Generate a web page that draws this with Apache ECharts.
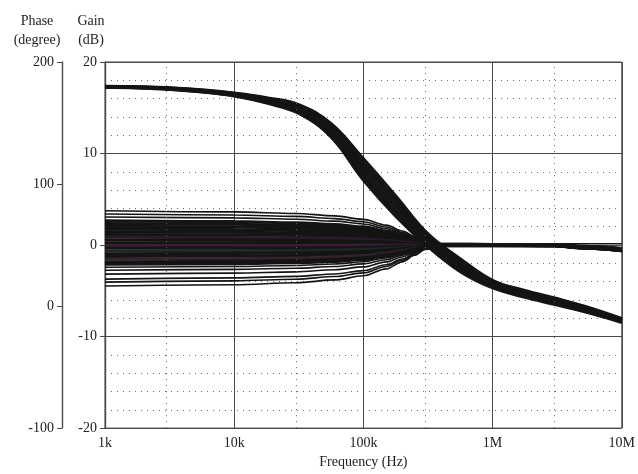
<!DOCTYPE html>
<html>
<head>
<meta charset="utf-8">
<script src="https://cdn.jsdelivr.net/npm/echarts@6/dist/echarts.min.js"></script>
<style>
  html, body { margin: 0; padding: 0; background: #fff; }
  #chart { width: 638px; height: 474px; }
</style>
</head>
<body>
<div id="chart"></div>
<script>
// Frequency points (Hz) for the gain and phase traces
const freqGain = [1e3, 1e4, 3e4, 6e4, 1e5, 1.5e5, 2e5, 2.5e5, 3e5, 4e5, 1e6, 3e6, 5e6, 1e7];
const freqPhase = [1e3, 1.78e3, 3.16e3, 5.62e3, 1e4, 1.78e4, 3.16e4, 5.62e4, 1e5,
                   1.78e5, 3.16e5, 5.62e5, 1e6, 1.78e6, 3.16e6, 5.62e6, 1e7];

// Gain traces (dB), one row per Monte Carlo run
const gainCurves = [
  [3.75, 3.62, 3.45, 3.19, 2.81, 2.18, 1.54, 0.94, 0.41, 0.11, 0.15, 0.15, 0.15, 0.14],
  [3.4, 3.28, 3.13, 2.89, 2.55, 1.97, 1.39, 0.85, 0.37, 0.10, 0.08, 0.05, -0.1, -0.35],
  [3.07, 2.97, 2.82, 2.61, 2.30, 1.78, 1.26, 0.77, 0.34, 0.09, 0.08, 0.05, -0.1, -0.35],
  [2.64, 2.55, 2.43, 2.24, 1.98, 1.53, 1.08, 0.66, 0.29, 0.08, 0.06, 0.03, -0.15, -0.4],
  [2.35, 2.27, 2.16, 2.0, 1.76, 1.36, 0.96, 0.59, 0.26, 0.07, 0.06, 0.03, -0.15, -0.4],
  [2.05, 1.98, 1.89, 1.74, 1.54, 1.19, 0.84, 0.51, 0.23, 0.06, 0.05, 0.02, -0.2, -0.45],
  [1.75, 1.69, 1.61, 1.49, 1.31, 1.02, 0.72, 0.44, 0.19, 0.05, 0.05, 0.02, -0.2, -0.45],
  [1.45, 1.40, 1.33, 1.23, 1.09, 0.84, 0.59, 0.36, 0.16, 0.04, 0.04, 0.0, -0.2, -0.45],
  [1.15, 1.11, 1.06, 0.98, 0.86, 0.67, 0.47, 0.29, 0.13, 0.03, 0.03, 0.0, -0.2, -0.5],
  [0.85, 0.82, 0.78, 0.72, 0.64, 0.49, 0.35, 0.21, 0.09, 0.03, 0.02, 0.0, -0.25, -0.5],
  [0.55, 0.53, 0.51, 0.47, 0.41, 0.32, 0.23, 0.14, 0.06, 0.02, 0.02, -0.02, -0.25, -0.5],
  [0.25, 0.24, 0.23, 0.21, 0.19, 0.15, 0.10, 0.06, 0.03, 0.01, 0.0, -0.02, -0.25, -0.5],
  [-0.05, -0.05, -0.05, -0.04, -0.04, -0.03, -0.02, -0.01, -0.01, 0.0, 0.0, -0.03, -0.25, -0.55],
  [-0.35, -0.34, -0.32, -0.30, -0.26, -0.20, -0.14, -0.09, -0.04, -0.01, -0.01, -0.04, -0.25, -0.55],
  [-0.65, -0.63, -0.60, -0.55, -0.49, -0.38, -0.27, -0.16, -0.07, -0.02, -0.02, -0.05, -0.3, -0.55],
  [-0.95, -0.92, -0.87, -0.81, -0.71, -0.55, -0.39, -0.24, -0.10, -0.03, -0.03, -0.05, -0.3, -0.55],
  [-1.25, -1.21, -1.15, -1.06, -0.94, -0.73, -0.51, -0.31, -0.14, -0.04, -0.04, -0.06, -0.3, -0.6],
  [-1.55, -1.50, -1.43, -1.32, -1.16, -0.90, -0.64, -0.39, -0.17, -0.05, -0.05, -0.07, -0.3, -0.6],
  [-1.85, -1.79, -1.70, -1.57, -1.39, -1.07, -0.76, -0.46, -0.20, -0.06, -0.06, -0.08, -0.3, -0.6],
  [-2.1, -2.03, -1.93, -1.79, -1.58, -1.22, -0.86, -0.53, -0.23, -0.06, -0.06, -0.08, -0.3, -0.6],
  [-2.43, -2.35, -2.24, -2.07, -1.82, -1.41, -1.0, -0.61, -0.27, -0.07, -0.07, -0.1, -0.3, -0.6],
  [-2.75, -2.66, -2.53, -2.34, -2.06, -1.60, -1.13, -0.69, -0.30, -0.08, -0.08, -0.1, -0.3, -0.6],
  [-3.18, -3.07, -2.93, -2.70, -2.39, -1.84, -1.30, -0.80, -0.35, -0.10, -0.08, -0.1, -0.3, -0.6],
  [-3.72, -3.59, -3.42, -3.16, -2.79, -2.16, -1.53, -0.93, -0.41, -0.11, -0.1, -0.12, -0.35, -0.6],
  [-4.05, -3.91, -3.73, -3.44, -3.04, -2.35, -1.66, -1.01, -0.45, -0.12, -0.1, -0.12, -0.35, -0.6],
  [-4.48, -4.33, -4.12, -3.81, -3.36, -2.60, -1.84, -1.12, -0.49, -0.13, -0.1, -0.12, -0.35, -0.6]
];

// Phase traces (degree), one row per run
const phaseCurves = [
  [180.3, 179.9, 179.1, 177.4, 174.7, 170.9, 165.3, 149.8, 121, 90.6, 59.5, 39, 21.3, 13, 6.3, -1.1, -10],
  [180.1, 179.7, 178.8, 177.1, 174.3, 170.2, 164.2, 148.1, 118.4, 88.1, 57.9, 37.4, 20.4, 12.1, 5.5, -1.8, -10.5],
  [180, 179.5, 178.6, 176.8, 173.9, 169.5, 163.1, 146.5, 115.9, 85.7, 56.4, 35.9, 19.4, 11.3, 4.7, -2.5, -11],
  [179.8, 179.3, 178.3, 176.5, 173.5, 168.8, 162, 144.8, 113.3, 83.2, 54.8, 34.3, 18.5, 10.4, 3.9, -3.2, -11.5],
  [179.6, 179.1, 178.1, 176.1, 173.1, 168.2, 161, 143.2, 110.7, 80.8, 53.2, 32.7, 17.5, 9.6, 3.1, -3.8, -12.1],
  [179.4, 178.9, 177.8, 175.8, 172.7, 167.5, 159.9, 141.5, 108.1, 78.3, 51.6, 31.1, 16.6, 8.7, 2.3, -4.5, -12.6],
  [179.3, 178.7, 177.6, 175.5, 172.3, 166.8, 158.8, 139.9, 105.6, 75.9, 50.1, 29.6, 15.6, 7.9, 1.5, -5.2, -13.1],
  [179.1, 178.5, 177.3, 175.2, 171.9, 166.1, 157.7, 138.2, 103, 73.4, 48.5, 28, 14.7, 7, 0.7, -5.9, -13.6]
];

// Axis tick labels
const freqTicks = { 1e3: '1k', 1e4: '10k', 1e5: '100k', 1e6: '1M', 1e7: '10M' };
const freqMinor = [3e3, 3e4, 3e5, 3e6];

const FONT = 'Liberation Serif';
const INK = '#222';
const GRID_SOLID = '#4a4a4a';
const GRID_DOT = '#6a6a6a';

const chart = echarts.init(document.getElementById('chart'), null, { renderer: 'canvas' });

const traceTints = { 9: '#2c1a2a', 12: '#3a1d36', 14: '#1c2a22', 17: '#34222f' };

const series = [];
gainCurves.forEach((row, i) => {
  const edge = i < 3 || i > 19;
  series.push({
    type: 'line',
    yAxisIndex: 0,
    data: row.map((v, k) => [freqGain[k], v]),
    showSymbol: false,
    smooth: 0.35,
    smoothMonotone: 'x',
    silent: true,
    z: 3,
    lineStyle: { color: traceTints[i] || '#141414', width: edge ? 1.6 : 3.2 }
  });
});
phaseCurves.forEach((row) => {
  series.push({
    type: 'line',
    yAxisIndex: 1,
    data: row.map((v, k) => [freqPhase[k], v]),
    showSymbol: false,
    smooth: 0.4,
    silent: true,
    z: 4,
    lineStyle: { color: '#141414', width: 2.6 }
  });
});
// Dotted verticals half way through each decade
series.push({
  type: 'line',
  yAxisIndex: 0,
  data: [],
  silent: true,
  z: 1,
  markLine: {
    silent: true,
    symbol: ['none', 'none'],
    label: { show: false },
    lineStyle: { color: GRID_DOT, type: [1, 5], width: 1 },
    data: freqMinor.map(f => ({ xAxis: f }))
  }
});

chart.setOption({
  animation: false,
  backgroundColor: '#ffffff',
  textStyle: { fontFamily: FONT },
  grid: {
    left: 105, right: 16, top: 62, bottom: 41,
    show: true, borderColor: GRID_SOLID, borderWidth: 1
  },
  xAxis: {
    type: 'log',
    logBase: 10,
    min: 1e3,
    max: 1e7,
    name: 'Frequency (Hz)',
    nameLocation: 'middle',
    nameGap: 24,
    nameTextStyle: { fontFamily: FONT, fontSize: 14, color: INK },
    axisLine: { show: true, lineStyle: { color: GRID_SOLID, width: 1.2 } },
    axisTick: { show: true, inside: false, length: 5, lineStyle: { color: GRID_SOLID } },
    axisLabel: {
      fontFamily: FONT, fontSize: 14, color: INK, margin: 8,
      formatter: v => freqTicks[Math.round(v)] || ''
    },
    splitLine: { show: true, lineStyle: { color: GRID_SOLID, width: 1 } },
    minorTick: { show: false },
    minorSplitLine: { show: false }
  },
  yAxis: [
    {
      type: 'value',
      min: -20, max: 20, interval: 10,
      position: 'left',
      offset: 0,
      axisLine: { show: true, onZero: false, lineStyle: { color: GRID_SOLID, width: 1.4 } },
      axisTick: { show: true, inside: false, length: 5, lineStyle: { color: GRID_SOLID } },
      axisLabel: { fontFamily: FONT, fontSize: 14, color: INK, margin: 8 },
      splitLine: { show: true, lineStyle: { color: GRID_SOLID, width: 1 } },
      minorTick: { show: false, splitNumber: 5 },
      minorSplitLine: { show: true, lineStyle: { color: GRID_DOT, type: [1, 5], width: 1 } }
    },
    {
      type: 'value',
      min: -100, max: 200, interval: 100,
      position: 'left',
      offset: 43,
      axisLine: { show: true, onZero: false, lineStyle: { color: GRID_SOLID, width: 1.4 } },
      axisTick: { show: true, inside: false, length: 5, lineStyle: { color: GRID_SOLID } },
      axisLabel: { fontFamily: FONT, fontSize: 14, color: INK, margin: 8 },
      splitLine: { show: false }
    }
  ],
  graphic: [
    {
      type: 'text', x: 37, y: 12,
      style: { text: 'Phase\n(degree)', font: '14px "Liberation Serif"', fill: INK, align: 'center', lineHeight: 19 }
    },
    {
      type: 'text', x: 91, y: 12,
      style: { text: 'Gain\n(dB)', font: '14px "Liberation Serif"', fill: INK, align: 'center', lineHeight: 19 }
    }
  ],
  series: series
});
</script>
</body>
</html>
